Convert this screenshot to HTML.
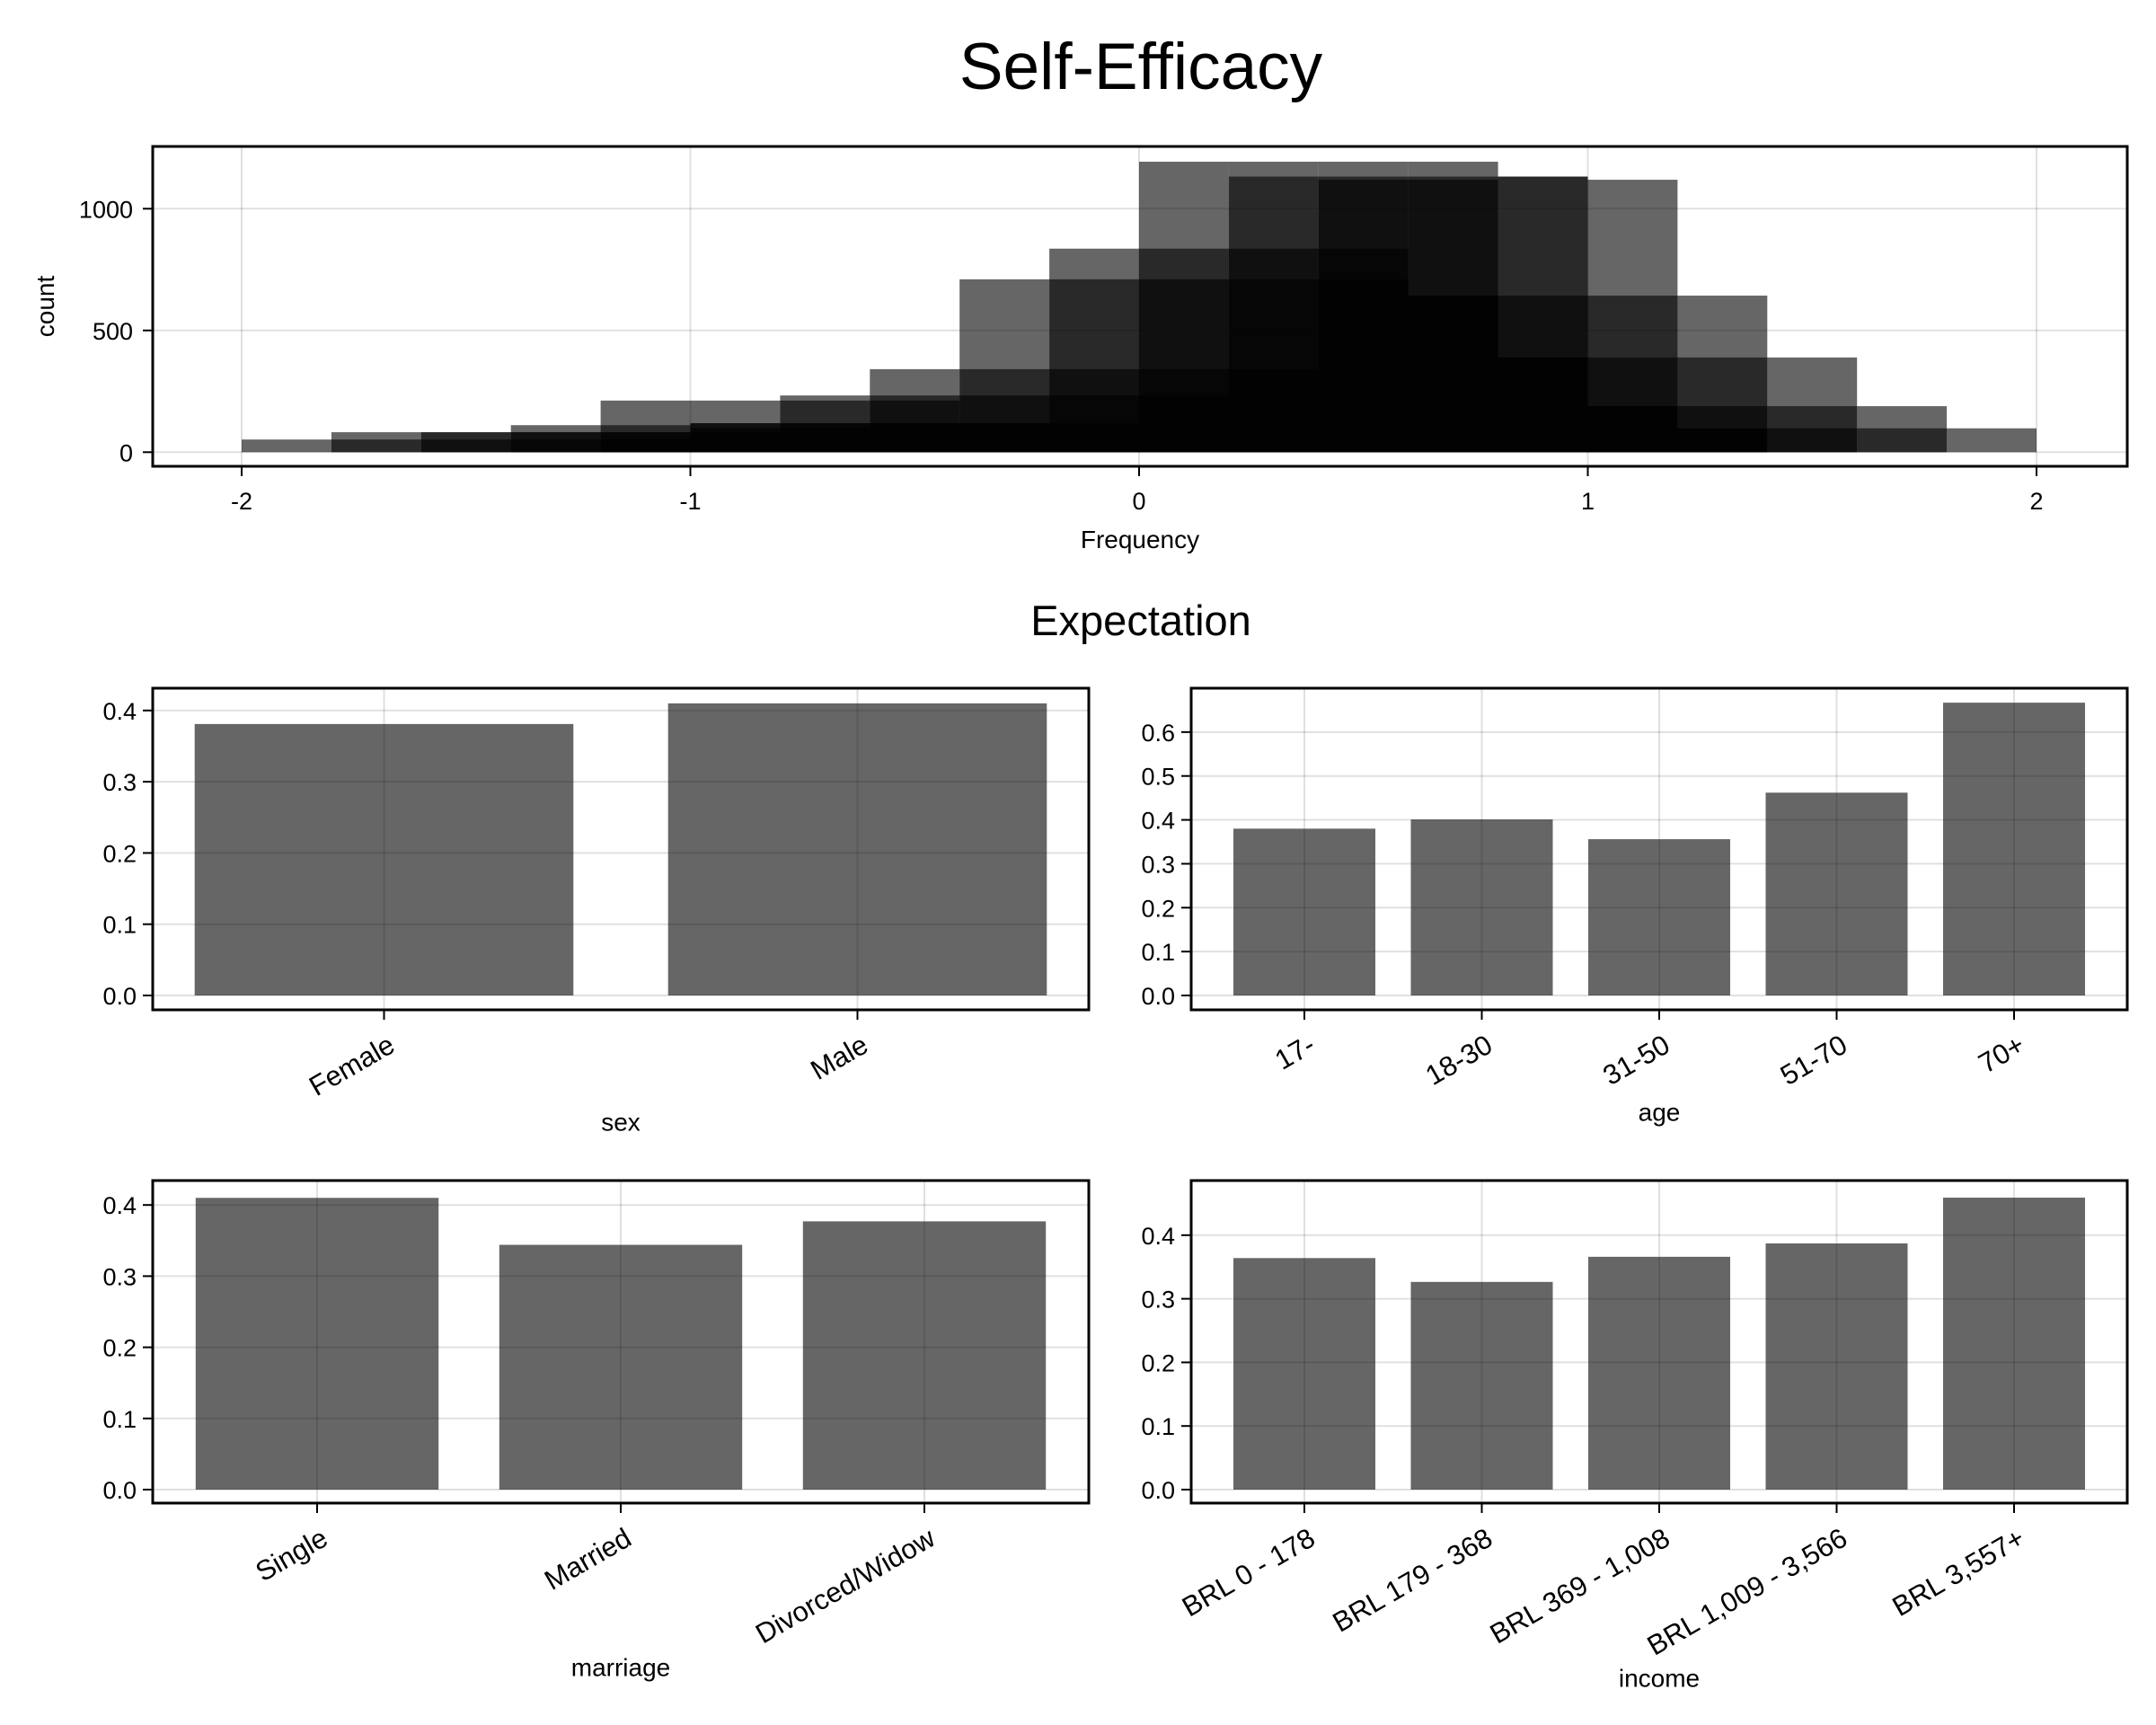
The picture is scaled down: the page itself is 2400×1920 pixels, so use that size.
<!DOCTYPE html>
<html><head><meta charset="utf-8"><style>
html,body{margin:0;padding:0;background:#fff;}
svg{display:block;font-family:"Liberation Sans",Arial,sans-serif;}
</style></head><body>
<svg id="chart" width="2400" height="1920" viewBox="0 0 2400 1920" xmlns="http://www.w3.org/2000/svg">
<text x="1270" y="99" font-size="73" text-anchor="middle">Self-Efficacy</text>
<text x="1270" y="707" font-size="47" text-anchor="middle">Expectation</text>
</svg>
<script>
// ---- Histogram data (bin left edges, 5 overlapping series per bin) ----
const binEdges = [-2,-1.8,-1.6,-1.4,-1.2,-1,-0.8,-0.6,-0.4,-0.2,0,0.2,0.4,0.6,0.8,1,1.2,1.4,1.6,1.8];
const histSeries1 = [52,82,82,111,212,212,233,341,710,836,1193,1193,1193,1193,1132,1119,643,389,189,98];
const histSeries2 = [0,52,82,82,111,119,212,233,341,710,836,1132,1132,1132,1132,643,389,189,98,0];
const histSeries3 = [0,0,52,82,82,119,119,212,233,341,710,836,1119,1119,643,389,189,98,0,0];
const histSeries4 = [0,0,0,52,82,100,119,119,119,233,341,710,836,643,389,189,98,0,0,0];
const histSeries5 = [0,0,0,0,52,82,100,119,119,119,233,341,710,643,389,189,98,0,0,0];
const histXTicks = [-2,-1,0,1,2];
const histYTicks = [0,500,1000];
// ---- Bar panels ----
const sexCats = ["Female","Male"];
const sexVals = [0.381,0.410];
const ageCats = ["17-","18-30","31-50","51-70","70+"];
const ageVals = [0.380,0.401,0.356,0.462,0.667];
const marriageCats = ["Single","Married","Divorced/Widow"];
const marriageVals = [0.410,0.344,0.377];
const incomeCats = ["BRL 0 - 178","BRL 179 - 368","BRL 369 - 1,008","BRL 1,009 - 3,566","BRL 3,557+"];
const incomeVals = [0.364,0.3265,0.366,0.387,0.459];
const ticks04 = [0,0.1,0.2,0.3,0.4];
const ticks06 = [0,0.1,0.2,0.3,0.4,0.5,0.6];

const NS="http://www.w3.org/2000/svg";
const svg=document.getElementById('chart');
function mk(tag,attrs,parent){const e=document.createElementNS(NS,tag);for(const k in attrs)e.setAttribute(k,attrs[k]);(parent||svg).appendChild(e);return e;}
const GRID="rgba(0,0,0,0.12)";

// ---------- Histogram ----------
(function(){
  const L=170,R=2368,T=163,B=519;
  const xs=v=>269+(v+2)*499.5;
  const ys=v=>503.3-v*0.271;
  const g=mk('g',{});
  
  
  histXTicks.forEach(t=>{const l=mk('line',{x1:xs(t),x2:xs(t),y1:T,y2:B,stroke:GRID,'stroke-width':2},g);});
  histYTicks.forEach(t=>{const l=mk('line',{x1:L,x2:R,y1:ys(t),y2:ys(t),stroke:GRID,'stroke-width':2},g);});
  [histSeries1,histSeries2,histSeries3,histSeries4,histSeries5].forEach((s,si)=>{
    s.forEach((v,i)=>{ if(v<=0)return;
      const x0=xs(binEdges[i]),x1=xs(binEdges[i]+0.2);
      const r=mk('rect',{x:x0,y:ys(v),width:x1-x0,height:ys(0)-ys(v),fill:'#000','fill-opacity':0.6},g);
      
      
    });
  });
  mk('rect',{x:L,y:T,width:R-L,height:B-T,fill:'none',stroke:'#000','stroke-width':3},g);
  histXTicks.forEach(t=>{
    mk('line',{x1:xs(t),x2:xs(t),y1:B,y2:B+11,stroke:'#000','stroke-width':2},g);
    const tx=mk('text',{x:xs(t),y:567,'font-size':27,'text-anchor':'middle'},g);tx.textContent=t;
    
  });
  histYTicks.forEach(t=>{
    mk('line',{x1:L-11,x2:L,y1:ys(t),y2:ys(t),stroke:'#000','stroke-width':2},g);
    const tx=mk('text',{x:148,y:ys(t)+10,'font-size':27,'text-anchor':'end'},g);tx.textContent=t;
    
  });
  const xl=mk('text',{x:1269,y:610,'font-size':28,'text-anchor':'middle'},g);xl.textContent='Frequency';
  
  const yl=mk('text',{x:60,y:341,'font-size':28,'text-anchor':'middle',transform:'rotate(-90 60 341)'},g);yl.textContent='count';
  
})();

// ---------- Bar panels ----------
function barPanel(name,cats,vals,yt,L,R,T,B,zero,ppu,step,title,titleY){
  const g=mk('g',{});
  
  
  const n=cats.length;
  const cx=(L+R)/2;
  const xs=i=>cx+(i-(n-1)/2)*step;
  const ys=v=>zero-v*ppu;
  cats.forEach((c,i)=>{const l=mk('line',{x1:xs(i),x2:xs(i),y1:T,y2:B,stroke:GRID,'stroke-width':2},g);});
  yt.forEach(t=>{const l=mk('line',{x1:L,x2:R,y1:ys(t),y2:ys(t),stroke:GRID,'stroke-width':2},g);});
  vals.forEach((v,i)=>{
    const w=step*0.8;
    const r=mk('rect',{x:xs(i)-w/2,y:ys(v),width:w,height:ys(0)-ys(v),fill:'#000','fill-opacity':0.6},g);
    
    
  });
  mk('rect',{x:L,y:T,width:R-L,height:B-T,fill:'none',stroke:'#000','stroke-width':3},g);
  cats.forEach((c,i)=>{
    mk('line',{x1:xs(i),x2:xs(i),y1:B,y2:B+11,stroke:'#000','stroke-width':2},g);
    const ax=xs(i)+10, ay=B+38;
    const tx=mk('text',{x:ax,y:ay,'font-size':31,'text-anchor':'end','dominant-baseline':'middle',transform:'rotate(-30 '+ax+' '+ay+')'},g);
    tx.textContent=c;
    
  });
  yt.forEach(t=>{
    mk('line',{x1:L-11,x2:L,y1:ys(t),y2:ys(t),stroke:'#000','stroke-width':2},g);
    const tx=mk('text',{x:L-18,y:ys(t)+10,'font-size':27,'text-anchor':'end'},g);tx.textContent=t.toFixed(1);
    
  });
  const xl=mk('text',{x:cx,y:titleY,'font-size':28,'text-anchor':'middle','dominant-baseline':'middle'},g);xl.textContent=title;
  
}
barPanel('sex',sexCats,sexVals,ticks04,170,1212,766,1124,1108,793,527,'sex',1251);
barPanel('age',ageCats,ageVals,ticks06,1326,2368,766,1124,1108,488.6,197.5,'age',1240);
barPanel('marriage',marriageCats,marriageVals,ticks04,170,1212,1314,1673,1658,792,338,'marriage',1858);
barPanel('income',incomeCats,incomeVals,ticks04,1326,2368,1314,1673,1658,708,197.5,'income',1870);
</script>
</body></html>
